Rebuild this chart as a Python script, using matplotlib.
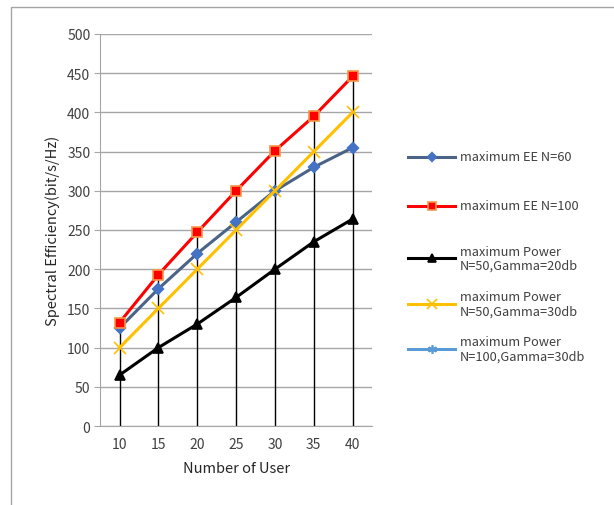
import matplotlib.pyplot as plt
from matplotlib.lines import Line2D

plt.rcParams['font.family'] = ['Noto Sans CJK SC', 'DejaVu Sans']

users = [10, 15, 20, 25, 30, 35, 40]
ee_n60 = [125, 175, 220, 260, 300, 330, 355]
ee_n100 = [132, 193, 247, 300, 351, 395, 446]
power_n50_g20 = [65, 100, 130, 164, 200, 235, 264]
power_n50_g30 = [100, 150, 200, 250, 300, 350, 400]
power_n100_g30 = []

series = [
    ("maximum EE N=60", ee_n60, '#4A6387', 'D', '#4472C4', '#4472C4', 5.5, 1.6),
    ("maximum EE N=100", ee_n100, '#FF0000', 's', '#FF0000', '#F79646', 7, 1.2),
    ("maximum Power\nN=50,Gamma=20db", power_n50_g20, '#000000', '^', '#000000', '#000000', 6.5, 1.2),
    ("maximum Power\nN=50,Gamma=30db", power_n50_g30, '#FFC000', 'x', '#FFC000', '#FFC000', 9, 1.2),
    ("maximum Power\nN=100,Gamma=30db", power_n100_g30, '#5B9BD5', (6, 2, 0), '#5B9BD5', '#5B9BD5', 8, 1.2),
]

fig = plt.figure(figsize=(6.14, 5.06), dpi=100)
ax = fig.add_axes([0.163, 0.156, 0.443, 0.775])

# drop lines from the highest point at each user count
tops = [max(v) for v in zip(ee_n60, ee_n100, power_n50_g20, power_n50_g30)]
ax.vlines(users, 0, tops, colors='black', linewidth=1.0, zorder=2)

for label, vals, color, marker, mfc, mec, ms, mew in series:
    ax.plot(users[:len(vals)], vals, color=color, linewidth=2.2, marker=marker,
            markerfacecolor=mfc, markeredgecolor=mec, markersize=ms,
            markeredgewidth=mew, zorder=3)

ax.set_xlim(7.5, 42.5)
ax.set_ylim(0, 500)
ax.set_xticks(users)
ax.set_yticks(range(0, 501, 50))
ax.yaxis.grid(True, color='#A6A6A6', linewidth=1.0)
ax.set_axisbelow(True)
for side in ['top', 'right']:
    ax.spines[side].set_visible(False)
ax.spines['left'].set_color('#A6A6A6')
ax.spines['bottom'].set_color('#A6A6A6')
ax.tick_params(axis='y', length=4, color='#A6A6A6', labelsize=10, labelcolor='#404040', pad=3)
ax.tick_params(axis='x', length=0, labelsize=10, labelcolor='#404040', pad=8)
ax.set_xlabel('Number of User', fontsize=10.5, color='#262626', labelpad=7)
ax.set_ylabel('Spectral Efficiency(bit/s/Hz)', fontsize=10.5, color='#262626', labelpad=5)

# legend drawn to the right of the plot area
legend_y = [158, 207, 259, 305, 350]
W, H = 614, 506
for (label, vals, color, marker, mfc, mec, ms, mew), yp in zip(series, legend_y):
    yf = 1 - yp / H
    fig.add_artist(Line2D([408 / W, 455 / W], [yf, yf], color=color, linewidth=2.2,
                          transform=fig.transFigure))
    fig.add_artist(Line2D([431.5 / W], [yf], color=color, marker=marker, markerfacecolor=mfc,
                          markeredgecolor=mec, markersize=ms * 0.8, markeredgewidth=mew,
                          transform=fig.transFigure))
    fig.text(460 / W, yf, label, fontsize=9.2, color='#404040', va='center', ha='left',
             linespacing=1.1)

# outer frame
fig.add_artist(Line2D([11 / W, 11 / W, 1], [0, 1 - 8 / H, 1 - 8 / H], color='#A6A6A6',
                      linewidth=1.0, transform=fig.transFigure))

fig.savefig('out.png', dpi=100)
